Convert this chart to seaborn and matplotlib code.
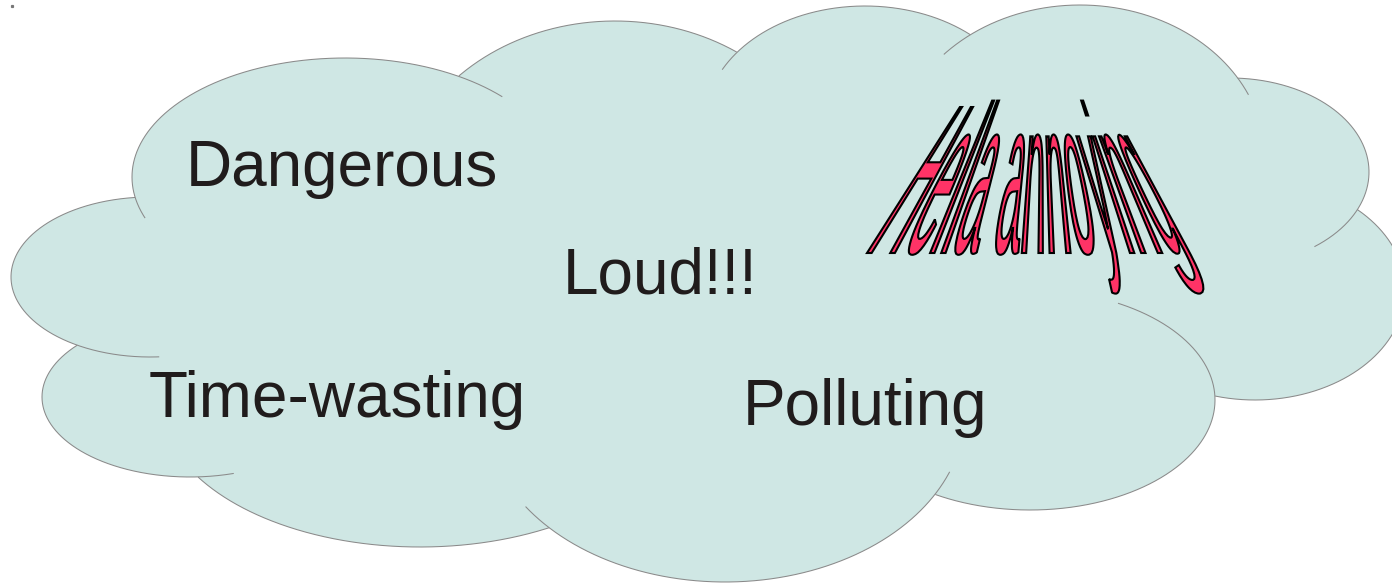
import numpy as np
import seaborn as sns
import matplotlib
matplotlib.use("Agg")
import matplotlib.pyplot as plt
from matplotlib.patches import Ellipse, PathPatch
from matplotlib.path import Path
from matplotlib.textpath import TextPath
from matplotlib.font_manager import FontProperties

# ---------------- content ----------------
words = ["Dangerous", "Loud!!!", "Time-wasting", "Polluting"]
word_x = [342, 660, 337, 865]        # centre of each word (px)
word_y = [186, 293, 417, 425]        # baseline (px)
fancy_text = "Hella annoying"

# cloud lobes: centre x, centre y, half width, half height (px, y down)
lobe_cx = [345, 615, 865, 1080, 1230, 1255, 1030, 725, 420, 190, 150]
lobe_cy = [177, 207, 122, 158, 172, 290, 400, 412, 401, 397, 277]
lobe_a = [213, 220, 160, 185, 139, 150, 185, 240, 260, 148, 139]
lobe_b = [119, 186, 116, 153, 94, 110, 110, 170, 146, 80, 80]
# arc overshoot into the neighbour lobe (px) at low / high angle end
tail_lo = [48, 0, 0, 20, 57, 0, 0, 32, 0, 0, 0]
tail_hi = [23, 0, 23, 33, 0, 0, 142, 27, 0, 36, 83]
filler = (700, 300, 520, 210)

fill_col = "#cfe7e4"
edge_col = "#8a8a8a"
text_col = "#201c1c"

sns.set_theme(style="white")
plt.rcParams["font.family"] = ["Liberation Sans", "DejaVu Sans"]

fig = plt.figure(figsize=(13.92, 5.83), dpi=100)
ax = fig.add_axes([0, 0, 1, 1])
ax.set_xlim(0, 1392)
ax.set_ylim(583, 0)
ax.axis("off")

lobes = list(zip(lobe_cx, lobe_cy, lobe_a, lobe_b))

# fill: union of all lobes plus a filler in the middle
for cx, cy, a, b in lobes + [filler]:
    ax.add_patch(Ellipse((cx, cy), 2 * a, 2 * b, facecolor=fill_col,
                         edgecolor="none", zorder=1))

# outline: the part of each lobe that is not inside any other lobe
t = np.radians(np.arange(0, 360, 0.2))
n = len(t)
for i, (cx, cy, a, b) in enumerate(lobes):
    x = cx + a * np.cos(t)
    y = cy - b * np.sin(t)
    vis = np.ones(n, bool)
    for j, (ox, oy, oa, ob) in enumerate(lobes + [filler]):
        if j == i:
            continue
        vis &= ((x - ox) / oa) ** 2 + ((y - oy) / ob) ** 2 > 0.998
    seg = np.hypot(np.diff(x, append=x[0]), np.diff(y, append=y[0]))
    ext = vis.copy()
    for k in range(n):
        if vis[k] and not vis[k - 1] and tail_lo[i] > 0:   # run start
            d, m = 0.0, k - 1
            while d < tail_lo[i]:
                ext[m % n] = True
                d += seg[m % n]
                m -= 1
        if vis[k] and not vis[(k + 1) % n] and tail_hi[i] > 0:  # run end
            d, m = 0.0, k + 1
            while d < tail_hi[i]:
                ext[m % n] = True
                d += seg[(m - 1) % n]
                m += 1
    if ext.all():
        continue
    shift = int(np.argmin(ext))
    xs, ys, es = np.roll(x, -shift), np.roll(y, -shift), np.roll(ext, -shift)
    ax.plot(np.where(es, xs, np.nan), np.where(es, ys, np.nan),
            color=edge_col, lw=0.75, zorder=2, solid_capstyle="butt")

# tiny stray point in the corner
ax.plot([12], [6], marker="s", ms=1.3, color="#777777", lw=0, zorder=2)

# plain words
for w, x0, y0 in zip(words, word_x, word_y):
    ax.text(x0, y0, w, ha="center", va="baseline", fontsize=46,
            color=text_col, zorder=3)

# perspective fontwork text
fp = FontProperties(family="Liberation Sans")
tp = TextPath((0, 0), fancy_text, size=200, prop=fp)
cap = TextPath((0, 0), "H", size=200, prop=fp).get_extents().y1
ext_box = tp.get_extents()
u0, u1 = ext_box.x0, ext_box.x1
X0, X1, BASE, VX, D = 867, 1190, 253, 1042, 275
verts, codes = [], []
for poly in tp.to_polygons():
    u, v = poly[:, 0], poly[:, 1]
    hc = v / cap
    h = 175.6 * hc / (1 + 0.203 * hc)
    h = np.where(h < 0, 0.72 * h, h)
    xb = X0 + (u - u0) / (u1 - u0) * (X1 - X0)
    xx = VX + (xb - VX) * (D - h) / D
    yy = BASE - h
    verts.extend(zip(xx, yy))
    codes += [Path.MOVETO] + [Path.LINETO] * (len(u) - 2) + [Path.CLOSEPOLY]
ax.add_patch(PathPatch(Path(verts, codes), facecolor="#ff3366",
                       edgecolor="black", lw=1.5, zorder=3))

fig.savefig("out.png", dpi=100, facecolor="white")
